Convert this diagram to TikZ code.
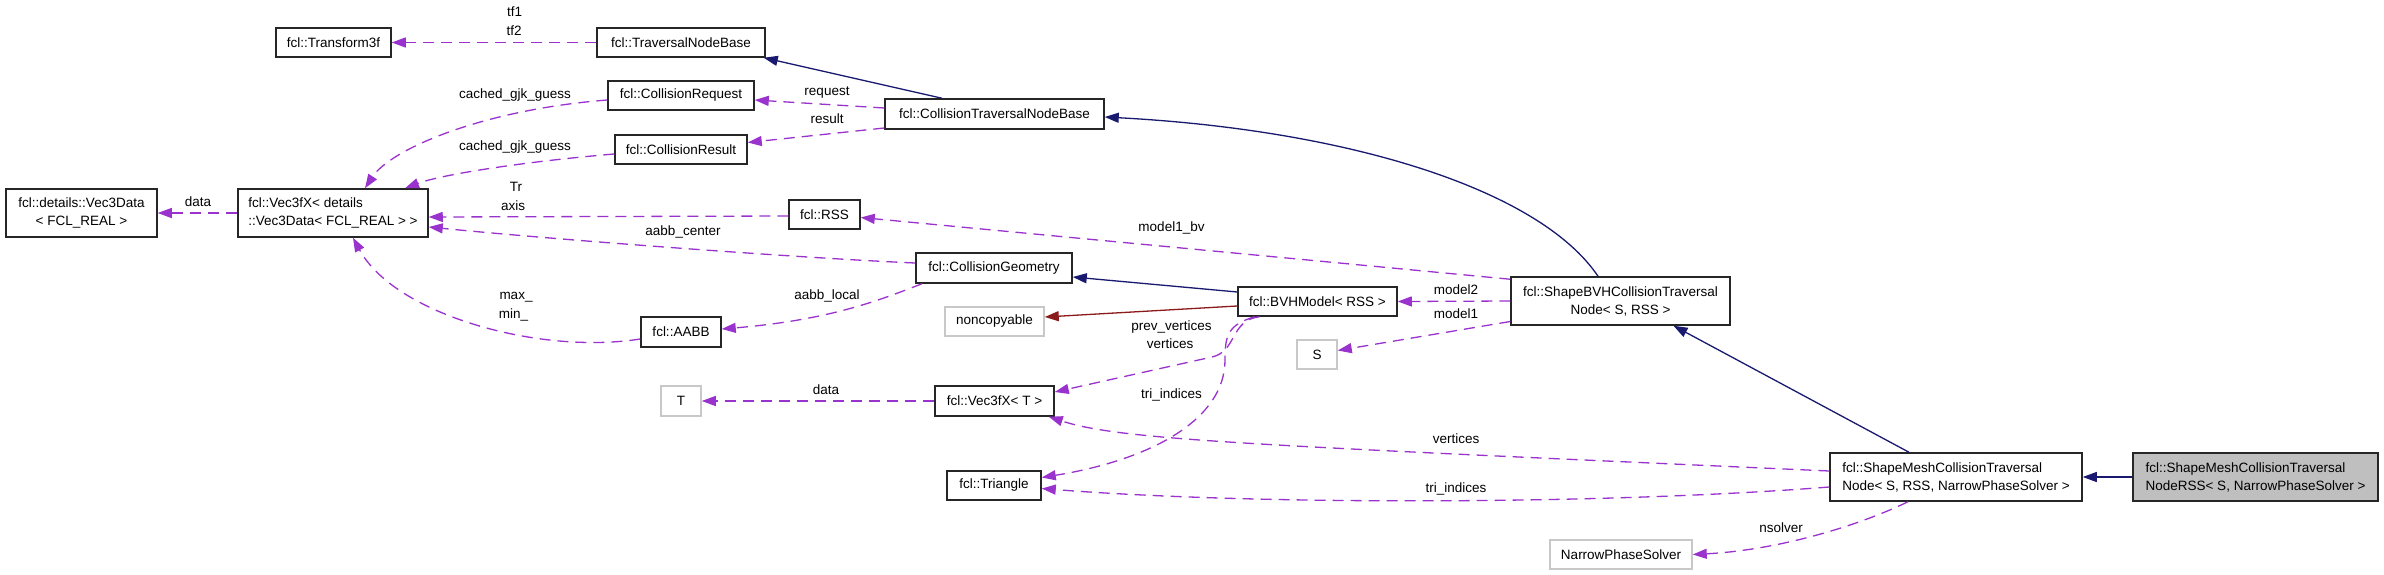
\documentclass[tikz,border=0pt]{standalone}
\usepackage{fontspec}
\setmainfont{Liberation Sans}
\usetikzlibrary{arrows.meta}
\definecolor{depc}{HTML}{9A32CD}
\definecolor{inhc}{HTML}{191970}
\definecolor{privc}{HTML}{8B1A1A}
\definecolor{hlfill}{HTML}{BFBFBF}
\definecolor{extc}{HTML}{C8C8C8}
\begin{document}
\begin{tikzpicture}[x=1pt,y=-1pt,
  every node/.style={font=\fontsize{13.5}{18}\selectfont},
  cls/.style={draw=black!85, line width=1.5pt, fill=white, rectangle, inner sep=0pt, align=center, minimum height=29pt},
  cls2/.style={cls, minimum height=48pt},
  extbox/.style={cls, draw=extc},
  hlbox/.style={cls2, fill=hlfill},
  lbl/.style={inner sep=0pt, text height=9.5pt, text depth=2.5pt},
  depedge/.style={draw=depc, line width=1.3pt, dash pattern=on 11pt off 7pt, -{Triangle[length=14pt,width=10pt]}},
  inhedge/.style={draw=inhc, line width=1.3pt, -{Triangle[length=14pt,width=10pt]}},
  privedge/.style={draw=privc, line width=1.3pt, -{Triangle[length=14pt,width=10pt]}}
]
\fill[white] (0,0) rectangle (2384,575);
\useasboundingbox (0,0) rectangle (2384,575);

% nodes
\node[cls2, minimum width=151pt] (vdata) at (81.5,213) {fcl::details::Vec3Data\\< FCL\_REAL >};
\node[cls2, minimum width=190pt, align=left] (vfxd) at (333,213) {fcl::Vec3fX< details\\::Vec3Data< FCL\_REAL > >};
\node[cls, minimum width=115pt] (tf) at (333.5,42.5) {fcl::Transform3f};
\node[cls, minimum width=168pt] (trav) at (681,42.5) {fcl::TraversalNodeBase};
\node[cls, minimum width=146pt] (creq) at (681,95.5) {fcl::CollisionRequest};
\node[cls, minimum width=132pt] (cres) at (681,149.5) {fcl::CollisionResult};
\node[cls, minimum width=219pt, minimum height=30pt] (ctnb) at (994.5,114) {fcl::CollisionTraversalNodeBase};
\node[cls, minimum width=71pt] (rss) at (824.5,214.5) {fcl::RSS};
\node[cls, minimum width=156pt, minimum height=30pt] (cgeom) at (994,268) {fcl::CollisionGeometry};
\node[cls, minimum width=80pt, minimum height=30pt] (aabb) at (681,332) {fcl::AABB};
\node[extbox, minimum width=40pt, minimum height=30pt] (tT) at (681,401) {T};
\node[extbox, minimum width=99pt] (noncopy) at (994.5,321.5) {noncopyable};
\node[cls, minimum width=119pt, minimum height=30pt] (vft) at (994.5,401) {fcl::Vec3fX< T >};
\node[cls, minimum width=94pt] (tri) at (994,485.5) {fcl::Triangle};
\node[cls, minimum width=159pt] (bvh) at (1317.5,301.5) {fcl::BVHModel< RSS >};
\node[extbox, minimum width=40pt] (sS) at (1317,354.5) {S};
\node[cls2, minimum width=219pt] (sbvh) at (1620.5,301) {fcl::ShapeBVHCollisionTraversal\\Node< S, RSS >};
\node[extbox, minimum width=142pt] (nps) at (1621,554.5) {NarrowPhaseSolver};
\node[cls2, minimum width=252pt, align=left] (smesh) at (1956,477) {fcl::ShapeMeshCollisionTraversal\\Node< S, RSS, NarrowPhaseSolver >};
\node[hlbox, minimum width=245pt, align=left] (nrss) at (2255.5,477) {fcl::ShapeMeshCollisionTraversal\\NodeRSS< S, NarrowPhaseSolver >};

% edges
\draw[depedge] (trav.west) -- (tf.east);
\draw[inhedge] ([xshift=-52.5pt]ctnb.north) -- ([xshift=-2pt]trav.south east);
\draw[depedge] ([yshift=6pt]ctnb.west) -- ([yshift=-4.5pt]creq.east);
\draw[depedge] ([yshift=-14pt]ctnb.west) -- ([yshift=7pt]cres.east);
\draw[depedge] ([yshift=-4.5pt]creq.west) .. controls (480,110) and (390,150) .. ([xshift=32pt]vfxd.north);
\draw[depedge] ([yshift=-4.5pt]cres.west) .. controls (520,162) and (440,175) .. ([xshift=72pt]vfxd.north);
\draw[depedge] (vfxd.west) -- (vdata.east);
\draw[depedge] ([yshift=-1.5pt]rss.west) -- ([yshift=-4pt]vfxd.east);
\draw[depedge] ([yshift=5pt]cgeom.west) .. controls (800,258) and (560,240) .. ([yshift=-14pt]vfxd.east);
\draw[depedge] ([yshift=-7pt]aabb.west) .. controls (540,355) and (395,315) .. ([xshift=20pt]vfxd.south);
\draw[depedge] ([xshift=-72pt]cgeom.south) .. controls (880,300) and (830,320) .. ([yshift=3pt]aabb.east);
\draw[depedge] (vft.west) -- (tT.east);
\draw[inhedge] ([yshift=9.5pt]bvh.west) -- ([yshift=-9pt]cgeom.east);
\draw[privedge] ([yshift=-4.5pt]bvh.west) -- ([yshift=4.5pt]noncopy.east);
\draw[depedge] ([xshift=-58pt]bvh.south) .. controls (1230,320) and (1237,351.5) .. (1212,357) -- ([yshift=9pt]vft.east);
\draw[depedge] ([xshift=-63pt]bvh.south) .. controls (1228,325) and (1225,335) .. (1225,360) .. controls (1225,420) and (1150,460) .. ([yshift=8pt]tri.east);
\draw[depedge] (sbvh.west) -- (bvh.east);
\draw[depedge] ([yshift=-20.5pt]sbvh.west) -- ([yshift=4pt]sS.east);
\draw[depedge] ([yshift=-3pt]sbvh.north west) -- ([yshift=-3pt]rss.east);
\draw[inhedge] ([xshift=-22.5pt]sbvh.north) .. controls (1540,190) and (1350,130) .. ([yshift=-3pt]ctnb.east);
\draw[inhedge] ([xshift=-47pt]smesh.north) -- ([xshift=53pt]sbvh.south);
\draw[depedge] ([yshift=6pt]smesh.west) .. controls (1250,445) and (1120,440) .. ([xshift=-6pt]vft.south east);
\draw[depedge] ([yshift=-10pt]smesh.west) .. controls (1600,505) and (1250,505) .. ([yshift=-3pt]tri.east);
\draw[depedge] ([xshift=-48pt]smesh.south) .. controls (1860,525) and (1780,550) .. (nps.east);
\draw[inhedge] (nrss.west) -- (smesh.east);

% labels
\node[lbl] (l1) at (514.5,13) {tf1};
\node[lbl] (l2) at (514,32) {tf2};
\node[lbl] (l3) at (515,95) {cached\_gjk\_guess};
\node[lbl] (l4) at (515,147) {cached\_gjk\_guess};
\node[lbl] (l5) at (827,92) {request};
\node[lbl] (l6) at (827,120) {result};
\node[lbl] (l7) at (198,203) {data};
\node[lbl] (l8) at (516,188) {Tr};
\node[lbl] (l9) at (513,207) {axis};
\node[lbl] (l10) at (683,232) {aabb\_center};
\node[lbl] (l11) at (516,296) {max\_};
\node[lbl] (l12) at (513.5,315) {min\_};
\node[lbl] (l13) at (827,296) {aabb\_local};
\node[lbl] (l14) at (826,391) {data};
\node[lbl] (l15) at (1171.5,228) {model1\_bv};
\node[lbl] (l16) at (1456,291) {model2};
\node[lbl] (l17) at (1456,315) {model1};
\node[lbl] (l18) at (1171.5,327) {prev\_vertices};
\node[lbl] (l19) at (1170,345) {vertices};
\node[lbl] (l20) at (1171.5,395) {tri\_indices};
\node[lbl] (l21) at (1456,440) {vertices};
\node[lbl] (l22) at (1456,489) {tri\_indices};
\node[lbl] (l23) at (1781,529) {nsolver};
\end{tikzpicture}
\end{document}
